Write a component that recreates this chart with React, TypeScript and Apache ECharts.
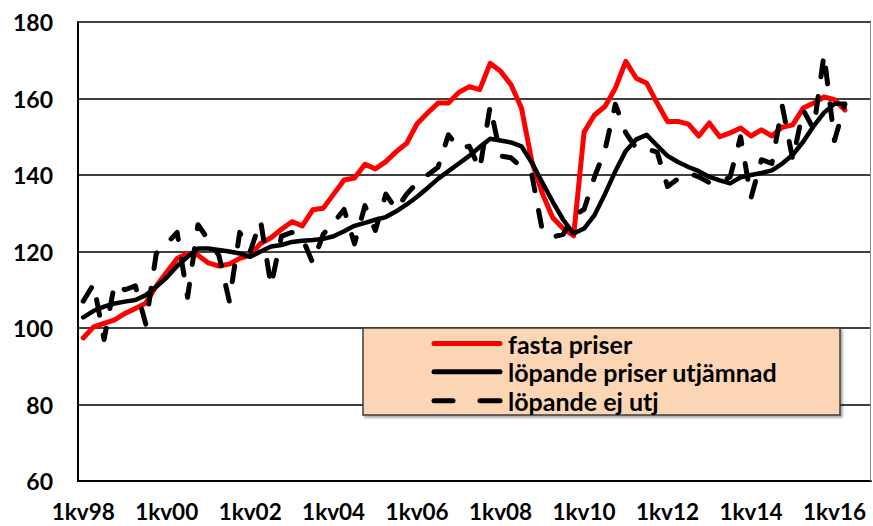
import React, { useEffect, useRef } from "react";
import * as echarts from "echarts";

const years = ["98", "99", "00", "01", "02", "03", "04", "05", "06", "07", "08", "09", "10", "11", "12", "13", "14", "15", "16"];
const quarters = ["1", "2", "3", "4"];
const categories: string[] = years.flatMap((y) => quarters.map((q) => `${q}kv${y}`));

const yTicks = { min: 60, max: 180, interval: 20 };

const seriesNames = ["fasta priser", "löpande priser utjämnad", "löpande ej utj"];

const fastaPriser = [
  97.4, 100.3, 101.2, 102.1, 103.8, 105.1, 106.5, 111, 114.6, 118.2,
  119.5, 119, 117, 116.2, 116.7, 118.2, 119, 122.1, 123.6, 125.8,
  127.8, 126.7, 130.9, 131.3, 135, 138.7, 139.2, 142.8, 141.6, 143.5,
  146.1, 148.3, 153.4, 156.2, 158.8, 158.8, 161.6, 163.1, 162.3, 169.2,
  167.1, 163.6, 157.5, 143.5, 135.2, 128.8, 126, 124.1, 151.2, 155.7,
  157.9, 162.7, 169.7, 165.3, 164, 158.8, 154, 154, 153.3, 150.2,
  153.6, 150, 151, 152.3, 150.2, 151.8, 150.2, 152.5, 153.1, 157.5,
  158.8, 160.4, 159.7, 157,
];

const lopandeUtjamnad = [
  102.8, 104.5, 105.6, 106.4, 106.9, 107.3, 108.6, 110.8, 113.2, 116.2,
  118.6, 120.8, 120.8, 120.4, 120, 119.5, 118.6, 120, 121.3, 121.7,
  122.5, 122.8, 123, 123.3, 124, 125.3, 126.7, 127.5, 128.3, 129,
  130.5, 132.3, 134.3, 136.6, 139, 141, 143, 145, 147.3, 149.5,
  149, 148.5, 147.5, 143.2, 138, 133, 128.3, 124.7, 126, 129.5,
  135, 141, 146.3, 149.3, 150.5, 147.7, 145, 143.4, 142.1, 141,
  139.5, 138.6, 137.8, 139.4, 140, 140.5, 141.2, 143, 145.3, 148.7,
  152.8, 156.3, 158.6, 158.6,
];

const lopandeEjUtj = [
  107, 111.5, 97, 111.5, 110, 111, 101, 119.5, 122, 125,
  108, 127, 123, 119, 107, 125, 120, 128, 111, 124,
  125, 123.5, 117, 124.5, 127.5, 131, 122, 132, 125.5, 135,
  131, 135, 138, 140, 142, 150.5, 147, 147.5, 141.5, 158,
  145, 144.5, 142, 140, 125.5, 123.8, 124.5, 129.3, 131, 139.5,
  146.5, 158.5, 151, 147, 146.8, 146, 137, 139, 140.5, 139.5,
  138, 138, 139.5, 150, 134, 144, 143, 158, 144, 157,
  152, 171.5, 149, 158.5,
];

const FONT = "Lato";

export default function App() {
  const ref = useRef<HTMLDivElement>(null);

  useEffect(() => {
    if (!ref.current) return;
    const chart = echarts.init(ref.current, undefined, { renderer: "svg" });

    const legendRows = [343.5, 371.7, 400.7];
    const lx1 = 434;
    const lx2 = 500;
    const tx = 508;
    const textStyle = (t: string, y: number) => ({
      type: "text",
      z: 101,
      x: tx,
      y,
      style: {
        text: t,
        fill: "#000",
        font: `bold 25px ${FONT}`,
        verticalAlign: "middle",
        align: "left",
      },
    });

    chart.setOption({
      animation: false,
      backgroundColor: "#fff",
      grid: { left: 78, right: 2, top: 22, bottom: 45, containLabel: false },
      xAxis: {
        type: "category",
        data: categories,
        boundaryGap: true,
        axisLine: { show: true, lineStyle: { color: "#000", width: 2 } },
        axisTick: { show: false },
        axisLabel: {
          interval: 7,
          margin: 22,
          color: "#000",
          fontFamily: FONT,
          fontWeight: "bold",
          fontSize: 22.5,
          lineHeight: 16,
        },
        splitLine: { show: false },
      },
      yAxis: {
        type: "value",
        min: yTicks.min,
        max: yTicks.max,
        interval: yTicks.interval,
        axisLine: { show: true, lineStyle: { color: "#000", width: 2 } },
        axisTick: { show: false },
        axisLabel: {
          margin: 25,
          color: "#000",
          fontFamily: FONT,
          fontWeight: "bold",
          fontSize: 23,
        },
        splitLine: { show: true, lineStyle: { color: "#000", width: 1.5 } },
      },
      series: [
        {
          name: seriesNames[0],
          type: "line",
          data: fastaPriser,
          symbol: "none",
          lineStyle: { color: "#ff0000", width: 5, cap: "round", join: "round" },
          z: 3,
        },
        {
          name: seriesNames[1],
          type: "line",
          data: lopandeUtjamnad,
          symbol: "none",
          smooth: false,
          lineStyle: { color: "#000", width: 4.5, cap: "round", join: "round" },
          z: 4,
        },
        {
          name: seriesNames[2],
          type: "line",
          data: lopandeEjUtj,
          symbol: "none",
          lineStyle: { color: "#000", width: 5, type: [16, 20], cap: "round", join: "round" },
          z: 5,
        },
      ],
      graphic: [
        {
          type: "line",
          z: 50,
          shape: { x1: 870.5, y1: 22, x2: 870.5, y2: 481 },
          style: { stroke: "#8c8c8c", lineWidth: 1 },
        },
        {
          type: "rect",
          z: 100,
          shape: { x: 363, y: 328, width: 477, height: 87 },
          style: {
            fill: "#fcd5b5",
            stroke: "#3c3c3c",
            lineWidth: 1.5,
            shadowBlur: 2,
            shadowOffsetX: 2,
            shadowOffsetY: 2,
            shadowColor: "rgba(0,0,0,0.35)",
          },
        },
        {
          type: "line",
          z: 101,
          shape: { x1: lx1, y1: legendRows[0], x2: lx2, y2: legendRows[0] },
          style: { stroke: "#ff0000", lineWidth: 5, lineCap: "round" },
        },
        {
          type: "line",
          z: 101,
          shape: { x1: lx1, y1: legendRows[1], x2: lx2, y2: legendRows[1] },
          style: { stroke: "#000", lineWidth: 5, lineCap: "round" },
        },
        {
          type: "line",
          z: 101,
          shape: { x1: lx1, y1: legendRows[2], x2: 453, y2: legendRows[2] },
          style: { stroke: "#000", lineWidth: 5, lineCap: "round" },
        },
        {
          type: "line",
          z: 101,
          shape: { x1: 480, y1: legendRows[2], x2: lx2, y2: legendRows[2] },
          style: { stroke: "#000", lineWidth: 5, lineCap: "round" },
        },
        textStyle(seriesNames[0], legendRows[0]),
        textStyle(seriesNames[1], legendRows[1]),
        textStyle(seriesNames[2], legendRows[2]),
      ],
    });

    return () => chart.dispose();
  }, []);

  return (
    <div
      ref={ref}
      style={{ position: "fixed", left: 0, top: 0, width: 873, height: 526 }}
    />
  );
}
